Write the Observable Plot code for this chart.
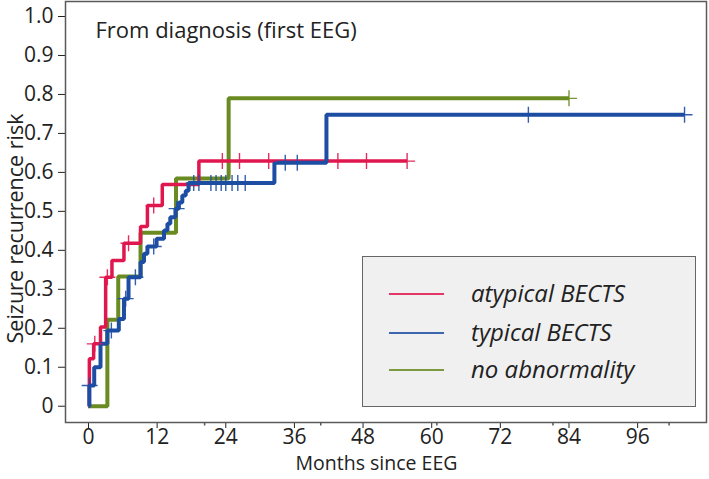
<!DOCTYPE html>
<html><head><meta charset="utf-8">
<script src="https://cdn.jsdelivr.net/npm/d3@7"></script>
<script src="https://cdn.jsdelivr.net/npm/@observablehq/plot@0.6"></script>
<style>
body{margin:0;background:#fff}
#wrap{position:relative;width:709px;height:479px;font-family:"Open Sans",sans-serif}
</style>
</head><body><div id="wrap"></div>
<script>
// ---- data ----
const xTicks = [0, 12, 24, 36, 48, 60, 72, 84, 96];
const minorXTicks = [20.3, 40.6, 60.9, 81.2, 101.5];
const yTicks = [0, 0.1, 0.2, 0.3, 0.4, 0.5, 0.6, 0.7, 0.8, 0.9, 1.0];

const groups = ["atypical BECTS", "typical BECTS", "no abnormality"];
const colors = ["#e0174f", "#1d4ea3", "#6a8b22"];

// atypical BECTS
const atypT = [0.15, 0.9, 2.1, 3.0, 4.1, 6.2, 9.1, 10.3, 12.9, 19.3];
const atypS = [0.122, 0.16, 0.203, 0.331, 0.374, 0.418, 0.461, 0.515, 0.569, 0.629];
const atypEnd = 55.7;
const atypCens = [1.1, 3.3, 7.0, 11.4, 23.4, 26.4, 31.5, 43.6, 48.6, 55.7];

// typical BECTS
const typT = [0.15, 1.0, 2.1, 3.3, 5.3, 6.2, 7.0, 9.1, 9.7, 10.3, 11.9, 13.2, 13.8, 14.3, 15.2, 15.8, 16.4, 17.0, 17.5, 32.5, 41.6];
const typS = [0.053, 0.10, 0.16, 0.194, 0.224, 0.276, 0.331, 0.37, 0.391, 0.41, 0.43, 0.451, 0.468, 0.485, 0.507, 0.523, 0.541, 0.553, 0.573, 0.625, 0.748];
const typEnd = 104.2;
const typCens = [0.2, 4.0, 6.5, 8.2, 11.4, 15.4, 18.4, 19.3, 21.4, 22.3, 23.2, 24.0, 25.1, 26.1, 27.4, 34.4, 36.5, 76.9, 104.2];

// no abnormality
const noT = [3.3, 5.2, 9.1, 15.3, 24.5];
const noS = [0.222, 0.333, 0.445, 0.584, 0.79];
const noEnd = 84.0;
const noCens = [84.0];

// ---- build tables ----
function curve(T, S, end) {
  const pts = [{t: 0, s: 0}];
  T.forEach((t, i) => pts.push({t, s: S[i]}));
  pts.push({t: end, s: S[S.length - 1]});
  return pts;
}
function cens(T, S, C) {
  return C.map(c => {
    let s = 0;
    T.forEach((t, i) => { if (t <= c) s = S[i]; });
    return {t: c, s};
  });
}
const series = [
  {name: groups[0], color: colors[0], w: 3.5, pts: curve(atypT, atypS, atypEnd), cs: cens(atypT, atypS, atypCens)},
  {name: groups[1], color: colors[1], w: 4, pts: curve(typT, typS, typEnd), cs: cens(typT, typS, typCens)},
  {name: groups[2], color: colors[2], w: 4, pts: curve(noT, noS, noEnd), cs: cens(noT, noS, noCens)}
];

const crossSym = {draw(ctx, size) {
  const r = Math.sqrt(size / Math.PI);
  ctx.moveTo(-r, 0); ctx.lineTo(r, 0);
  ctx.moveTo(0, -r); ctx.lineTo(0, r);
}};
const minorSym = {draw(ctx, size) {
  const r = Math.sqrt(size / Math.PI);
  ctx.moveTo(0, 0); ctx.lineTo(0, r);
}};

const drawOrder = [series[2], series[0], series[1]];
const marks = [
  Plot.frame({stroke: "#5a5a5a", strokeWidth: 1.5}),
  Plot.dot(minorXTicks, {x: d => d, frameAnchor: "bottom", symbol: minorSym, r: 3, stroke: "#555", fill: "none"})
];
for (const sr of drawOrder) {
  marks.push(Plot.line(sr.pts, {x: "t", y: "s", curve: "step-after", stroke: sr.color, strokeWidth: sr.w, strokeLinejoin: "miter", strokeLinecap: "butt"}));
}
for (const sr of drawOrder) {
  marks.push(Plot.dot(sr.cs, {x: "t", y: "s", symbol: crossSym, r: 8, stroke: sr.color, strokeWidth: 1.4, fill: "none", strokeOpacity: 0.9}));
}
marks.push(
  Plot.text(["From diagnosis (first EEG)"], {text: d => d, frameAnchor: "top-left", dx: 30, dy: 29, textAnchor: "start", lineAnchor: "middle", fontSize: 22, fill: "#222"}),
  Plot.text(["Seizure recurrence risk"], {text: d => d, frameAnchor: "left", rotate: -90, dx: -49.4, dy: 16.5, textAnchor: "middle", lineAnchor: "middle", fontSize: 21.5, fill: "#222"}),
  Plot.text(["Months since EEG"], {text: d => d, frameAnchor: "bottom", dx: -9.5, dy: 41, textAnchor: "middle", lineAnchor: "middle", fontSize: 19.5, fill: "#222"})
);

const chart = Plot.plot({
  width: 709, height: 479,
  marginLeft: 65, marginRight: 3, marginTop: 1, marginBottom: 57,
  style: {fontFamily: "Open Sans, sans-serif", fontSize: "21px", color: "#222", background: "#fff"},
  x: {domain: [-4.02, 108.04], ticks: xTicks, tickSize: 6, tickPadding: 1, tickFormat: d => String(d), label: null},
  y: {domain: [-0.0418, 1.0385], ticks: yTicks, tickSize: 7, tickPadding: 5, tickFormat: d => d === 0 ? "0" : d.toFixed(1), label: null},
  marks
});
const wrap = document.getElementById("wrap");
wrap.appendChild(chart);

// ---- legend (inside plot area, overlay) ----
const box = document.createElement("div");
box.style.cssText = "position:absolute;left:362px;top:256px;width:334px;height:151px;background:#f0f0f0;border:1.5px solid #666;box-sizing:border-box;";
const rowY = [37, 75.5, 113];
groups.forEach((g, i) => {
  const ln = document.createElement("div");
  ln.style.cssText = `position:absolute;left:26px;width:55px;top:${rowY[i] - 1}px;height:2px;background:${colors[i]};opacity:0.85`;
  box.appendChild(ln);
  const tx = document.createElement("div");
  tx.textContent = g;
  tx.style.cssText = `position:absolute;left:108px;top:${rowY[i]}px;transform:translateY(-55%);font-style:italic;font-size:24px;color:#222;white-space:nowrap;font-family:"Open Sans",sans-serif`;
  box.appendChild(tx);
});
wrap.appendChild(box);
</script>
</body></html>
